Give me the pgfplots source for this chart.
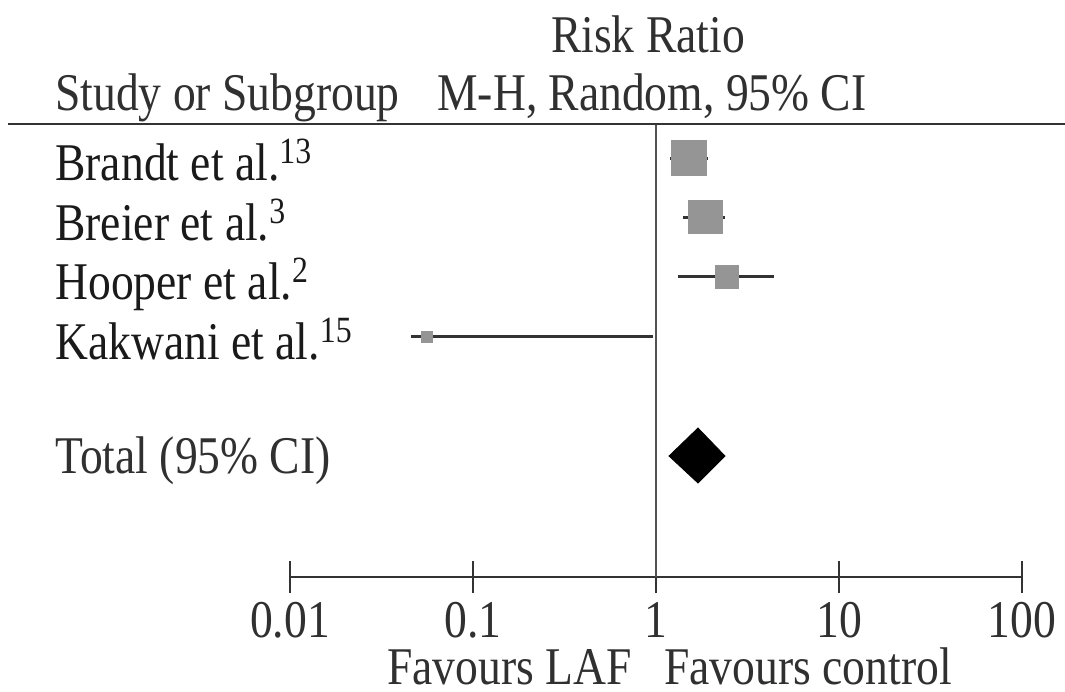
\documentclass[border=0pt]{standalone}
\usepackage{fontspec}
\setmainfont{Liberation Serif}[FakeStretch=0.86]
\usepackage{pgfplots}
\pgfplotsset{compat=1.18}
\definecolor{sqgray}{HTML}{959595}
\definecolor{cigray}{HTML}{333333}
\definecolor{txt}{HTML}{1A1A1A}
\definecolor{hdr}{HTML}{303030}
\newcommand{\bigf}{\fontsize{26.5pt}{30pt}\selectfont}
\newcommand{\sups}[1]{\raisebox{8.5pt}{\fontsize{18.5pt}{20pt}\selectfont #1}}
\begin{document}
\begin{tikzpicture}[x=0.5pt,y=-0.5pt]
\useasboundingbox (0,0) rectangle (1065,691);
\begin{axis}[
  at={(145pt,-288.5pt)}, anchor=south west,
  scale only axis, width=366pt, height=226.5pt,
  xmode=log, xmin=0.01, xmax=100,
  ymin=-577, ymax=-124,
  axis x line*=bottom, axis y line=none,
  x axis line style={line width=1.4pt, color=cigray, -},
  xtick={0.01,0.1,1,10,100},
  xticklabels={0.01,0.1,1,10,100},
  xminorticks=false,
  major tick length=16pt, tick align=center,
  every tick/.style={line width=1.1pt, color=cigray},
  xticklabel style={font=\bigf, text=hdr, anchor=base, yshift=-22pt},
  clip=false,
]
% line of no effect
\addplot[line width=1pt, color=cigray!85] coordinates {(1,-124) (1,-577)};
% confidence intervals
\addplot[line width=1.5pt, color=cigray] coordinates {(1.19,-158) (1.92,-158)};
\addplot[line width=1.5pt, color=cigray] coordinates {(1.41,-217) (2.38,-217)};
\addplot[line width=1.5pt, color=cigray] coordinates {(1.32,-276) (4.41,-276)};
\addplot[line width=1.5pt, color=cigray] coordinates {(0.0458,-336) (0.963,-336)};
% point estimates (weight squares)
\addplot[only marks, mark=square*, mark size=8.6pt, mark options={fill=sqgray, draw=sqgray}] coordinates {(1.51,-158)};
\addplot[only marks, mark=square*, mark size=8.4pt, mark options={fill=sqgray, draw=sqgray}] coordinates {(1.86,-217)};
\addplot[only marks, mark=square*, mark size=5.6pt, mark options={fill=sqgray, draw=sqgray}] coordinates {(2.44,-277)};
\addplot[only marks, mark=square*, mark size=2.8pt, mark options={fill=sqgray, draw=sqgray}] coordinates {(0.056,-337)};
% pooled estimate
\addplot[fill=black, draw=black] coordinates {(1.178,-456) (1.696,-428) (2.383,-456) (1.696,-483)} -- cycle;
\end{axis}
% header rule
\draw[line width=1.4pt, color=cigray] (8,124) -- (1065,124);
% headers
\node[anchor=base, inner sep=0, text=hdr, font=\bigf] at (648,52) {Risk Ratio};
\node[anchor=base west, inner sep=0, text=hdr, font=\bigf] at (55,110) {Study or Subgroup};
\node[anchor=base west, inner sep=0, text=hdr, font=\bigf] at (437,110) {M-H, Random, 95\% CI};
% study labels
\node[anchor=base west, inner sep=0, text=txt, font=\bigf] at (55,180) {Brandt et al.\sups{13}};
\node[anchor=base west, inner sep=0, text=txt, font=\bigf] at (55,240) {Breier et al.\sups{3}};
\node[anchor=base west, inner sep=0, text=txt, font=\bigf] at (55,299) {Hooper et al.\sups{2}};
\node[anchor=base west, inner sep=0, text=txt, font=\bigf] at (55,359) {Kakwani et al.\sups{15}};
\node[anchor=base west, inner sep=0, text=hdr, font=\bigf] at (55,473) {Total (95\% CI)};
% favours labels
\node[anchor=base east, inner sep=0, text=hdr, font=\bigf] at (632,684) {Favours LAF};
\node[anchor=base west, inner sep=0, text=hdr, font=\bigf] at (664,684) {Favours control};
\end{tikzpicture}
\end{document}
